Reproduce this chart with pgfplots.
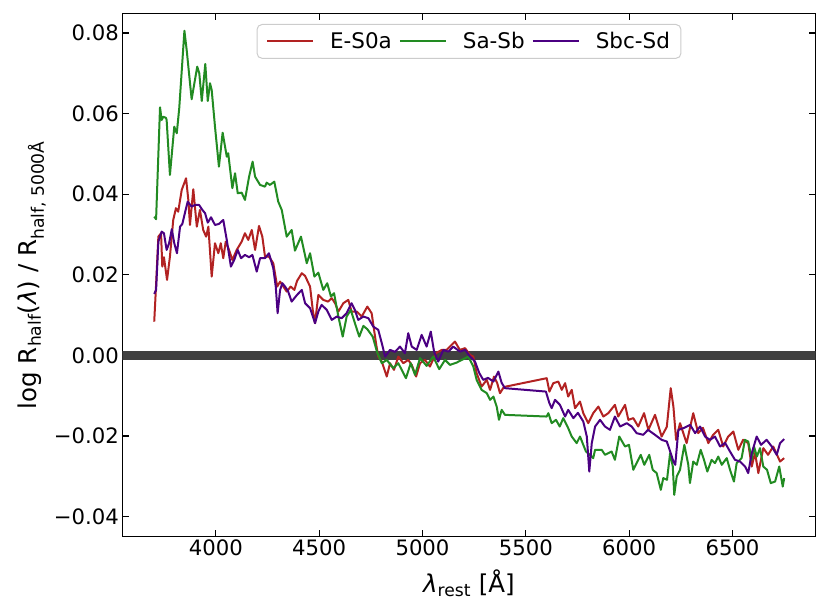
\documentclass[border=0pt]{standalone}
\usepackage{pgfplots}
\pgfplotsset{compat=1.18}
\usepackage{fontspec}
\setmainfont{DejaVu Sans}
\definecolor{cred}{HTML}{B22222}
\definecolor{cgreen}{HTML}{228B22}
\definecolor{cpurple}{HTML}{4B0082}
\begin{document}
\begin{tikzpicture}
\useasboundingbox (-122.3pt,-78.3pt) rectangle (707.7pt,536.7pt);
\begin{axis}[
  at={(0pt,0pt)}, anchor=south west,
  scale only axis, width=693.4pt, height=523.4pt,
  xmin=3547.5, xmax=6902.5, ymin=-0.0450, ymax=0.0849,
  scaled x ticks=false, scaled y ticks=false,
  xtick={4000,4500,5000,5500,6000,6500},
  xticklabels={4000,4500,5000,5500,6000,6500},
  ytick={-0.04,-0.02,0,0.02,0.04,0.06,0.08},
  yticklabels={−0.04,−0.02,0.00,0.02,0.04,0.06,0.08},
  tick align=inside, major tick length=6.5pt,
  minor tick num=0,
  tick style={line width=1.1pt, black},
  axis line style={line width=1.2pt},
  ticklabel style={font=\fontsize{21.2}{25}\selectfont},
  xlabel={\textit{λ}\textsubscript{rest} [Å]},
  ylabel={log R\textsubscript{half}(\textit{λ}) / R\textsubscript{half, 5000Å}},
  label style={font=\fontsize{24.5}{29}\selectfont, inner sep=0pt},
  xlabel style={at={(axis description cs:0.5,-0.1066)}, anchor=base},
  ylabel style={at={(axis description cs:-0.110,0.5)}, anchor=south, rotate=0},
  legend columns=3,
  legend cell align=left,
  legend image code/.code={\draw[#1] (0pt,0pt) -- (46pt,0pt);},
  legend style={at={(0.5,1)}, anchor=north, yshift=-10.7pt,
    draw=black!20, line width=1pt, rounded corners=5pt, fill=white,
    font=\fontsize{21.5}{25}\selectfont, inner xsep=9pt, inner ysep=6pt,
    /tikz/every odd column/.append style={column sep=14pt},
    /tikz/every even column/.append style={column sep=5pt}},
  every axis plot/.append style={line width=2pt, line join=round},
]
\addplot[draw=black!75, line width=9pt, forget plot] coordinates {(3547.5,0) (6902.5,0)};
% E-S0a
\addplot[cred] coordinates {
(3702,0.00839)(3709,0.01543)(3722,0.02947)(3735,0.03032)(3741,0.02203)(3749,0.02436)(3764,0.01873)(3778,0.02451)
(3794,0.03361)(3807,0.03652)(3818,0.03567)(3835,0.04106)(3856,0.04396)(3867,0.03858)(3875,0.03237)(3891,0.04123)
(3908,0.03195)(3923,0.0361)(3939,0.03113)(3953,0.02947)(3964,0.03195)(3980,0.01955)(3996,0.02783)(4012,0.02535)
(4024,0.02783)(4036,0.02411)(4048,0.02823)(4064,0.02617)(4080,0.02369)(4101,0.02617)(4125,0.02823)(4141,0.03032)
(4157,0.02865)(4174,0.03113)(4190,0.02617)(4209,0.03213)(4225,0.02947)(4238,0.02451)(4257,0.02451)(4278,0.02287)
(4297,0.01707)(4311,0.01831)(4327,0.01707)(4343,0.01583)(4362,0.01707)(4380,0.01625)(4393,0.01848)(4416,0.02039)
(4432,0.01972)(4456,0.01707)(4469,0.01129)(4480,0.00799)(4496,0.01501)(4520,0.01377)(4543,0.01335)(4561,0.01419)
(4577,0.01295)(4593,0.01087)(4617,0.01295)(4641,0.01377)(4657,0.01087)(4682,0.01087)(4706,0.00963)(4733,0.01211)
(4754,0.01047)(4775,0.00303)(4786,-0.0003)(4803,-0.00154)(4827,-0.00526)(4843,-0.00194)(4862,-0.0036)(4883,-0.0003)
(4907,-0.00194)(4931,-0.00112)(4948,-0.00236)(4969,-0.00526)(4988,-0.00194)(5012,-0.00112)(5036,-0.00278)(5065,0.00055)
(5093,0.00136)(5117,0.00136)(5133,0.00218)(5157,0.00342)(5181,0.00136)(5206,0.00179)(5230,0.00012)(5246,-0.0003)
(5262,-0.00442)(5286,-0.00774)(5311,-0.00608)(5327,-0.00856)(5346,-0.00526)(5361,-0.00682)(5375,-0.00938)(5391,-0.00806)
(5404,-0.00774)(5601,-0.00566)(5614,-0.00898)(5633,-0.0069)(5657,-0.0065)(5674,-0.00856)(5690,-0.0069)(5705,-0.01022)
(5722,-0.00856)(5738,-0.0131)(5762,-0.01146)(5778,-0.01434)(5802,-0.01682)(5826,-0.01434)(5851,-0.0127)(5875,-0.01518)
(5899,-0.01434)(5931,-0.01228)(5947,-0.01518)(5980,-0.01228)(5996,-0.016)(6020,-0.01558)(6044,-0.01766)(6072,-0.01434)
(6093,-0.01848)(6125,-0.01476)(6157,-0.02014)(6182,-0.01774)(6201,-0.00814)(6214,-0.0127)(6227,-0.02096)(6246,-0.01682)
(6278,-0.02178)(6310,-0.01434)(6334,-0.0193)(6357,-0.01799)(6383,-0.02178)(6406,-0.01972)(6431,-0.01848)(6455,-0.02262)
(6478,-0.02022)(6504,-0.0189)(6528,-0.02344)(6551,-0.02096)(6576,-0.02178)(6593,-0.02759)(6609,-0.02419)(6625,-0.02922)
(6649,-0.02302)(6672,-0.02468)(6697,-0.02262)(6730,-0.02635)(6750,-0.0255)
};
\addlegendentry{E-S0a}
% Sa-Sb
\addplot[cgreen] coordinates {
(3702,0.03443)(3711,0.03379)(3730,0.06157)(3738,0.05842)(3746,0.05924)(3759,0.05892)(3762,0.05842)(3778,0.04478)
(3799,0.05676)(3811,0.05512)(3823,0.06133)(3848,0.08058)(3859,0.07579)(3883,0.06356)(3910,0.07165)(3920,0.07001)
(3932,0.06314)(3949,0.07232)(3961,0.06314)(3972,0.06753)(3980,0.06587)(3996,0.05676)(4015,0.04684)(4033,0.05527)
(4053,0.04932)(4060,0.05016)(4080,0.04148)(4093,0.0452)(4106,0.04024)(4125,0.04039)(4141,0.03858)(4161,0.04436)
(4178,0.04808)(4190,0.04436)(4214,0.0423)(4238,0.04188)(4246,0.04287)(4262,0.0423)(4283,0.04312)(4302,0.03815)
(4319,0.0361)(4343,0.02947)(4367,0.03113)(4383,0.026)(4412,0.02947)(4440,0.02287)(4456,0.02535)(4477,0.01955)
(4496,0.02054)(4520,0.01625)(4539,0.01791)(4557,0.01459)(4572,0.01543)(4593,0.00963)(4614,0.00466)(4633,0.00963)
(4653,0.01129)(4673,0.00799)(4694,0.00466)(4714,0.00732)(4733,0.0065)(4759,0.00466)(4781,0.00069)(4803,-0.00194)
(4827,-0.00112)(4859,-0.00318)(4883,-0.00194)(4920,-0.00566)(4943,-0.00194)(4964,-0.00484)(4988,-0.00069)(5020,-0.0026)
(5052,-0.0003)(5081,-0.00342)(5109,-0.00112)(5133,-0.00236)(5165,-0.00179)(5190,-0.00112)(5222,-0.0003)(5246,-0.00278)
(5262,-0.00608)(5286,-0.00856)(5311,-0.00938)(5327,-0.01104)(5343,-0.01022)(5359,-0.0127)(5370,-0.016)(5383,-0.01352)
(5399,-0.01476)(5601,-0.01518)(5609,-0.01434)(5625,-0.01682)(5646,-0.016)(5664,-0.01766)(5681,-0.01558)(5705,-0.01806)
(5722,-0.02014)(5746,-0.02178)(5762,-0.02014)(5791,-0.02387)(5810,-0.02468)(5826,-0.0255)(5835,-0.02344)(5867,-0.02344)
(5883,-0.02468)(5915,-0.02387)(5931,-0.02592)(5952,-0.02014)(5980,-0.02262)(5999,-0.0222)(6020,-0.0284)(6036,-0.02674)
(6056,-0.02468)(6073,-0.02716)(6097,-0.02468)(6114,-0.0284)(6133,-0.02922)(6153,-0.03337)(6165,-0.03046)(6183,-0.03089)
(6198,-0.02426)(6211,-0.02759)(6218,-0.03461)(6230,-0.03007)(6246,-0.0284)(6267,-0.0222)(6286,-0.02716)(6294,-0.0317)
(6310,-0.02635)(6327,-0.02716)(6346,-0.02344)(6362,-0.02592)(6378,-0.02883)(6399,-0.02592)(6415,-0.02674)(6431,-0.02511)
(6448,-0.02716)(6472,-0.0255)(6488,-0.0284)(6507,-0.03131)(6520,-0.02674)(6544,-0.0255)(6560,-0.02096)(6576,-0.02138)
(6593,-0.02592)(6604,-0.02262)(6618,-0.02511)(6633,-0.02302)(6649,-0.02759)(6667,-0.0284)(6685,-0.0317)(6706,-0.03131)
(6726,-0.02759)(6743,-0.03255)(6750,-0.03046)
};
\addlegendentry{Sa-Sb}
% Sbc-Sd
\addplot[cpurple] coordinates {
(3702,0.01526)(3711,0.01625)(3722,0.02823)(3738,0.03071)(3749,0.03032)(3762,0.02617)(3774,0.02783)(3787,0.03131)
(3799,0.02783)(3812,0.02535)(3827,0.03195)(3838,0.03262)(3854,0.0361)(3864,0.03815)(3883,0.03691)(3899,0.03734)
(3919,0.03734)(3935,0.0361)(3948,0.03528)(3961,0.03295)(3977,0.03428)(3996,0.03237)(4015,0.03262)(4036,0.03361)
(4053,0.02865)(4073,0.02203)(4089,0.02369)(4106,0.02617)(4122,0.02411)(4141,0.02493)(4161,0.02436)(4177,0.02493)
(4198,0.02079)(4214,0.02411)(4238,0.02411)(4257,0.02535)(4278,0.02163)(4290,0.01707)(4299,0.01047)(4311,0.01625)
(4322,0.01791)(4335,0.01707)(4349,0.016)(4367,0.01335)(4380,0.01419)(4393,0.01501)(4416,0.01625)(4432,0.01295)
(4456,0.01171)(4480,0.00799)(4496,0.01087)(4512,0.01253)(4537,0.01129)(4561,0.00881)(4585,0.00963)(4609,0.00923)
(4633,0.01047)(4657,0.01295)(4673,0.01129)(4689,0.00881)(4714,0.00963)(4738,0.00923)(4762,0.00714)(4786,0.00633)
(4803,0.00303)(4819,-0.0003)(4843,0.00136)(4867,0.00087)(4891,0.00218)(4915,0.00055)(4931,0.00551)(4948,0.00218)
(4972,0.00136)(4996,0.00509)(5020,0.00218)(5040,0.0059)(5056,0.00094)(5076,-0.00154)(5101,0.00136)(5125,0.00094)
(5149,0.00218)(5181,0.00094)(5206,0.00136)(5230,-0.0003)(5254,-0.00154)(5275,-0.00442)(5294,-0.00608)(5317,-0.00558)
(5343,-0.0065)(5367,-0.00402)(5383,-0.00682)(5399,-0.00814)(5597,-0.00898)(5614,-0.01186)(5625,-0.0131)(5641,-0.01104)
(5665,-0.01228)(5690,-0.01518)(5705,-0.01352)(5730,-0.01558)(5752,-0.01426)(5778,-0.01642)(5795,-0.02014)(5807,-0.02883)
(5819,-0.02178)(5835,-0.01766)(5859,-0.016)(5883,-0.01766)(5907,-0.01848)(5931,-0.01518)(5956,-0.01766)(5988,-0.01682)
(6012,-0.01766)(6036,-0.0193)(6068,-0.01972)(6091,-0.01848)(6125,-0.01972)(6157,-0.02096)(6182,-0.02138)(6201,-0.02426)
(6214,-0.02635)(6223,-0.02716)(6238,-0.01848)(6266,-0.01799)(6295,-0.01724)(6319,-0.0193)(6343,-0.01766)(6367,-0.02014)
(6391,-0.02096)(6415,-0.02014)(6440,-0.02262)(6464,-0.02171)(6488,-0.02387)(6512,-0.02592)(6536,-0.02635)(6561,-0.02759)
(6576,-0.02922)(6593,-0.02426)(6617,-0.02014)(6638,-0.0222)(6665,-0.02096)(6690,-0.02262)(6714,-0.02468)(6730,-0.02178)
(6750,-0.02079)
};
\addlegendentry{Sbc-Sd}
\end{axis}
\end{tikzpicture}
\end{document}
